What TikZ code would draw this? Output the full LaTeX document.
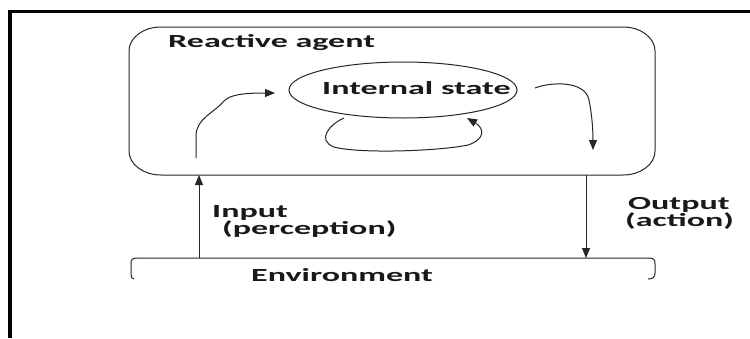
\documentclass[tikz,border=0pt]{standalone}
\usepackage{fontspec}
\setmainfont{Carlito}
\usetikzlibrary{arrows.meta,shapes.geometric}
\newcommand{\wtxt}[1]{\scalebox{1.84}[1]{\bfseries #1}}
\tikzset{
  line/.style={draw=black!85, line width=1pt},
  arr/.style={line, -{Triangle[length=10pt,width=8pt]}},
  lbl/.style={anchor=base west, inner sep=0pt, font=\fontsize{18.5}{21}\selectfont, text=black!90},
  frame/.style={draw=black, line width=3.2pt}
}
\begin{document}
\begin{tikzpicture}[x=1pt,y=-1pt]
\useasboundingbox (0,0) rectangle (750,338);
\fill[white] (0,0) rectangle (750,338);
% outer frame (top and left visible)
\draw[frame] (750,11.5) -- (10,11.5) -- (10,338);
% agent box
\draw[line] (161,27) -- (623,27) .. controls (640.7,27) and (655,37.7) .. (655,51)
  -- (655,151) .. controls (655,164.3) and (640.7,175) .. (623,175)
  -- (161,175) .. controls (143.3,175) and (129,164.3) .. (129,151)
  -- (129,51) .. controls (129,37.7) and (143.3,27) .. (161,27) -- cycle;
\node[lbl] (ra) at (168,47) {\wtxt{Reactive agent}};
% internal state ellipse
\node[ellipse, line, minimum width=228pt, minimum height=56pt, inner sep=0pt] (state) at (403,90) {};
\node[lbl] (st) at (322,94) {\wtxt{Internal state}};
% inner arrows
\coordinate (inA) at (196,158);
\coordinate (inB) at (275,93);
\draw[arr] (inA) -- (196,135) .. controls (197,118) and (214,113) .. (224,101)
  .. controls (230,95) and (242,93) .. (inB);
\coordinate (loopA) at (344,118);
\coordinate (loopB) at (467,118);
\draw[arr] (loopA) .. controls (330,124) and (316,140) .. (334,147)
  .. controls (360,154) and (440,151) .. (468,145)
  .. controls (486,139) and (484,128) .. (loopB);
\coordinate (outA) at (535,88);
\coordinate (outB) at (593,150);
\draw[arr] (outA) .. controls (550,82) and (585,80) .. (589,100)
  .. controls (592,115) and (593,130) .. (outB);
% environment bracket
\draw[line] (137,258) -- (649,258) .. controls (654,258) and (655,260) .. (655,264)
  -- (655,273) .. controls (655,277) and (653,279) .. (648,279);
\draw[line] (137,258) .. controls (132,258) and (131,260) .. (131,264)
  -- (131,274) .. controls (131,277) and (132,279) .. (134,279);
\coordinate (envIn) at (199,258);
\coordinate (envOut) at (586,258);
\coordinate (agIn) at (199,175);
\coordinate (agOut) at (586,175);
\node[lbl] (env) at (251,281) {\wtxt{Environment}};
% input / output arrows
\draw[arr] (envIn) -- (agIn);
\draw[arr] (agOut) -- (envOut);
\node[lbl] (inp) at (212,217) {\wtxt{Input}};
\node[lbl] (perc) at (222,234) {\wtxt{(perception)}};
\node[lbl] (outp) at (628,209) {\wtxt{Output}};
\node[lbl] (act) at (625,226) {\wtxt{(action)}};
\end{tikzpicture}
\end{document}
